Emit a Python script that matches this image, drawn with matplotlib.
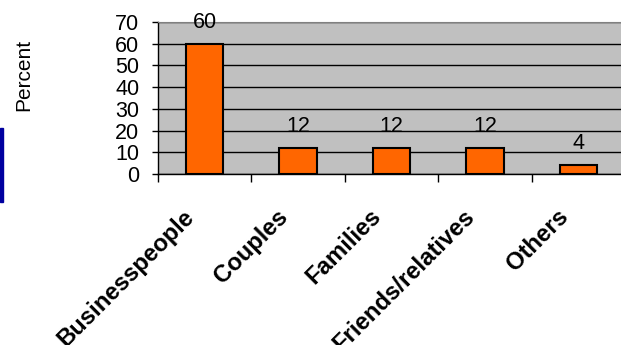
import matplotlib.pyplot as plt
from matplotlib.patches import Rectangle
from matplotlib.transforms import ScaledTranslation

# data
categories = ['Businesspeople', 'Couples', 'Families', 'Friends/relatives', 'Others']
percent = [60, 12, 12, 12, 4]
yticks = [0, 10, 20, 30, 40, 50, 60, 70]

plt.rcParams['font.family'] = ['Liberation Sans', 'DejaVu Sans']

fig = plt.figure(figsize=(6.21, 3.45), dpi=100)
ax = fig.add_axes([158 / 621, 1 - 174 / 345, 467 / 621, 152 / 345])
ax.set_facecolor('#C0C0C0')

x = list(range(len(categories)))
bars = ax.bar(x, percent, width=0.4, color='#FF6600', edgecolor='black', linewidth=1.5, zorder=3)

# value labels
for xi, v in zip(x, percent):
    ax.annotate(str(v), (xi, v), xytext=(0, 11.5), textcoords='offset points',
                ha='center', va='baseline', fontsize=15.5)

ax.set_xlim(-0.5, len(categories) - 0.5)
ax.set_ylim(0, 70)
ax.set_yticks(yticks)
ax.yaxis.grid(True, color='black', linewidth=1)
ax.set_axisbelow(True)
ax.tick_params(axis='y', length=4.5, width=1, labelsize=15.5, pad=9)

# category boundaries as ticks, labels drawn separately
ax.set_xticks([i - 0.5 for i in range(len(categories) + 1)])
ax.set_xticklabels([])
ax.tick_params(axis='x', length=6, width=1)

shift = ScaledTranslation(-0.22, -0.31, fig.dpi_scale_trans)
for xi, name in zip(x, categories):
    ax.text(xi, 0, name, transform=ax.get_xaxis_transform() + shift,
            rotation=45, rotation_mode='anchor', ha='right', va='top',
            fontsize=17.2, fontweight='bold', clip_on=False)

ax.spines['top'].set_color('#808080')
ax.spines['right'].set_visible(False)
ax.spines['left'].set_linewidth(1)
ax.spines['bottom'].set_linewidth(1)

fig.text(0.039, 1 - 75 / 345, 'Percent', rotation=90, ha='center', va='center', fontsize=15)

# blue slide accent on the left edge
fig.patches.append(Rectangle((0, 1 - 202 / 345), 3 / 621, 74 / 345,
                             transform=fig.transFigure, color='#0000A0', zorder=5))

fig.savefig('out.png', dpi=100)
